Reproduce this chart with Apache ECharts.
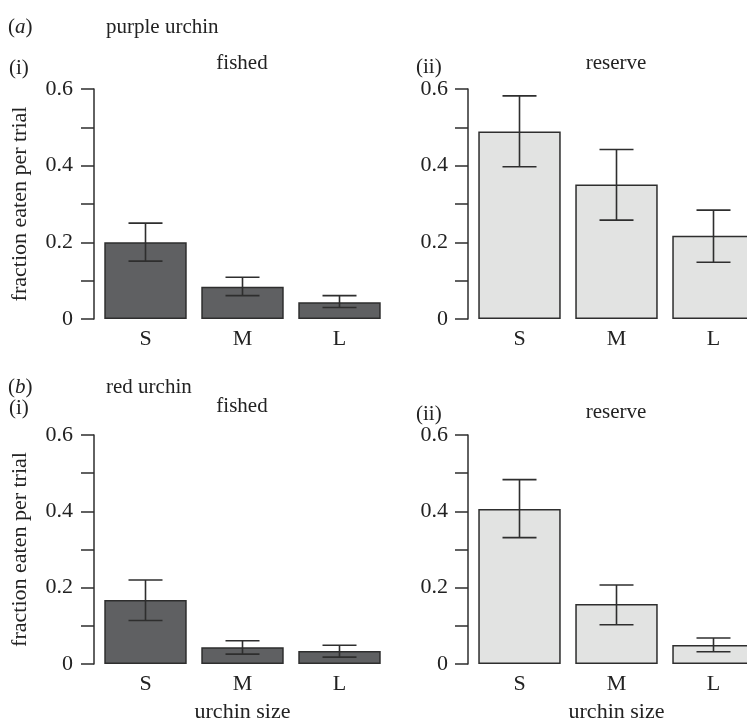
<!DOCTYPE html>
<html>
<head>
<meta charset="UTF-8">
<title>urchin predation</title>
<script src="https://cdn.jsdelivr.net/npm/echarts@6/dist/echarts.min.js"></script>
</head>
<body style="margin:0;background:#fff">
<div id="main" style="width:747px;height:721px;"></div>
<script type="text/javascript">
// urchin size classes
var sizes = ['S', 'M', 'L'];
var yTicks = [0, 0.2, 0.4, 0.6];

// (a) purple urchin
var purpleFished = [0.200, 0.084, 0.044];
var purpleFishedLo = [0.151, 0.061, 0.030];
var purpleFishedHi = [0.250, 0.109, 0.061];
var purpleReserve = [0.489, 0.351, 0.217];
var purpleReserveLo = [0.397, 0.258, 0.148];
var purpleReserveHi = [0.582, 0.442, 0.284];

// (b) red urchin
var redFished = [0.168, 0.044, 0.034];
var redFishedLo = [0.114, 0.026, 0.018];
var redFishedHi = [0.220, 0.061, 0.049];
var redReserve = [0.406, 0.157, 0.050];
var redReserveLo = [0.331, 0.103, 0.032];
var redReserveHi = [0.483, 0.207, 0.068];

var FONT = '"Liberation Serif", "DejaVu Serif", serif';
var INK = '#2e2e2e';
var TXT = '#222';
var DARK = '#5f6062';
var LIGHT = '#e2e3e2';

var myChart = echarts.init(document.getElementById('main'));

function errData(lo, hi) {
    return lo.map(function (v, i) { return [i, v, hi[i]]; });
}

function errorBar(params, api) {
    var lo = api.coord([api.value(0), api.value(1)]);
    var hi = api.coord([api.value(0), api.value(2)]);
    var w = 17;
    var st = { stroke: INK, lineWidth: 1.6 };
    return {
        type: 'group',
        children: [
            { type: 'line', shape: { x1: lo[0], y1: lo[1], x2: hi[0], y2: hi[1] }, style: st },
            { type: 'line', shape: { x1: lo[0] - w, y1: lo[1], x2: lo[0] + w, y2: lo[1] }, style: st },
            { type: 'line', shape: { x1: hi[0] - w, y1: hi[1], x2: hi[0] + w, y2: hi[1] }, style: st }
        ]
    };
}

// right-hand panels run past the canvas edge, as in the original figure
var grids = [
    { left: 97, top: 89, width: 291, height: 230, outerBoundsMode: 'none' },
    { left: 471, top: 89, width: 291, height: 230, outerBoundsMode: 'none' },
    { left: 97, top: 435, width: 291, height: 229, outerBoundsMode: 'none' },
    { left: 471, top: 435, width: 291, height: 229, outerBoundsMode: 'none' }
];

var xAxes = grids.map(function (g, i) {
    return {
        type: 'category',
        gridIndex: i,
        data: sizes,
        axisLine: { show: false },
        axisTick: { show: false },
        axisLabel: { margin: 9, fontFamily: FONT, fontSize: 22, color: TXT },
        name: i >= 2 ? 'urchin size' : '',
        nameLocation: 'middle',
        nameGap: 37,
        nameTextStyle: { fontFamily: FONT, fontSize: 22, color: TXT }
    };
});

var yAxes = grids.map(function (g, i) {
    return {
        type: 'value',
        gridIndex: i,
        min: 0,
        max: 0.6,
        interval: 0.1,
        offset: 3,
        splitLine: { show: false },
        axisLine: { show: true, lineStyle: { color: INK, width: 1.5 } },
        axisTick: { show: true, length: 13, lineStyle: { color: INK, width: 1.5 } },
        axisLabel: {
            margin: i % 2 ? 20 : 21,
            fontFamily: FONT,
            fontSize: 22,
            color: TXT,
            formatter: function (v) {
                var k = yTicks.indexOf(Math.round(v * 10) / 10);
                if (k < 0) return '';
                return k === 0 ? '0' : yTicks[k].toFixed(1);
            }
        },
        name: i % 2 ? '' : 'fraction eaten per trial',
        nameLocation: 'middle',
        nameGap: 63,
        nameTextStyle: { fontFamily: FONT, fontSize: 22, color: TXT }
    };
});

var panels = [
    [purpleFished, purpleFishedLo, purpleFishedHi, DARK],
    [purpleReserve, purpleReserveLo, purpleReserveHi, LIGHT],
    [redFished, redFishedLo, redFishedHi, DARK],
    [redReserve, redReserveLo, redReserveHi, LIGHT]
];

var series = [];
panels.forEach(function (p, i) {
    series.push({
        type: 'bar',
        xAxisIndex: i,
        yAxisIndex: i,
        data: p[0],
        barCategoryGap: '15%',
        itemStyle: { color: p[3], borderColor: INK, borderWidth: 1.5 },
        silent: true
    });
    series.push({
        type: 'custom',
        xAxisIndex: i,
        yAxisIndex: i,
        data: errData(p[1], p[2]),
        renderItem: errorBar,
        z: 5,
        silent: true
    });
});

function label(x, y, text, italicLetter) {
    return {
        type: 'text',
        x: x,
        y: y,
        style: {
            text: italicLetter ? '{n|(}{i|' + italicLetter + '}{n|)}' : text,
            fontFamily: FONT,
            fontSize: 21,
            fill: TXT,
            verticalAlign: 'middle',
            rich: {
                n: { fontFamily: FONT, fontSize: 21, color: TXT },
                i: { fontFamily: FONT, fontSize: 21, fontStyle: 'italic', color: TXT }
            }
        }
    };
}

function centred(cx, y, text) {
    var t = label(cx, y, text);
    t.style.align = 'center';
    return t;
}

var option = {
    animation: false,
    grid: grids,
    xAxis: xAxes,
    yAxis: yAxes,
    series: series,
    graphic: [
        label(8, 27, '', 'a'),
        label(106, 27, 'purple urchin'),
        label(9, 68, '(i)'),
        centred(242, 63, 'fished'),
        label(416, 67, '(ii)'),
        centred(616, 63, 'reserve'),
        label(8, 387, '', 'b'),
        label(106, 387, 'red urchin'),
        label(9, 408, '(i)'),
        centred(242, 406, 'fished'),
        label(416, 414, '(ii)'),
        centred(616, 412, 'reserve')
    ]
};

myChart.setOption(option);
</script>
</body>
</html>
